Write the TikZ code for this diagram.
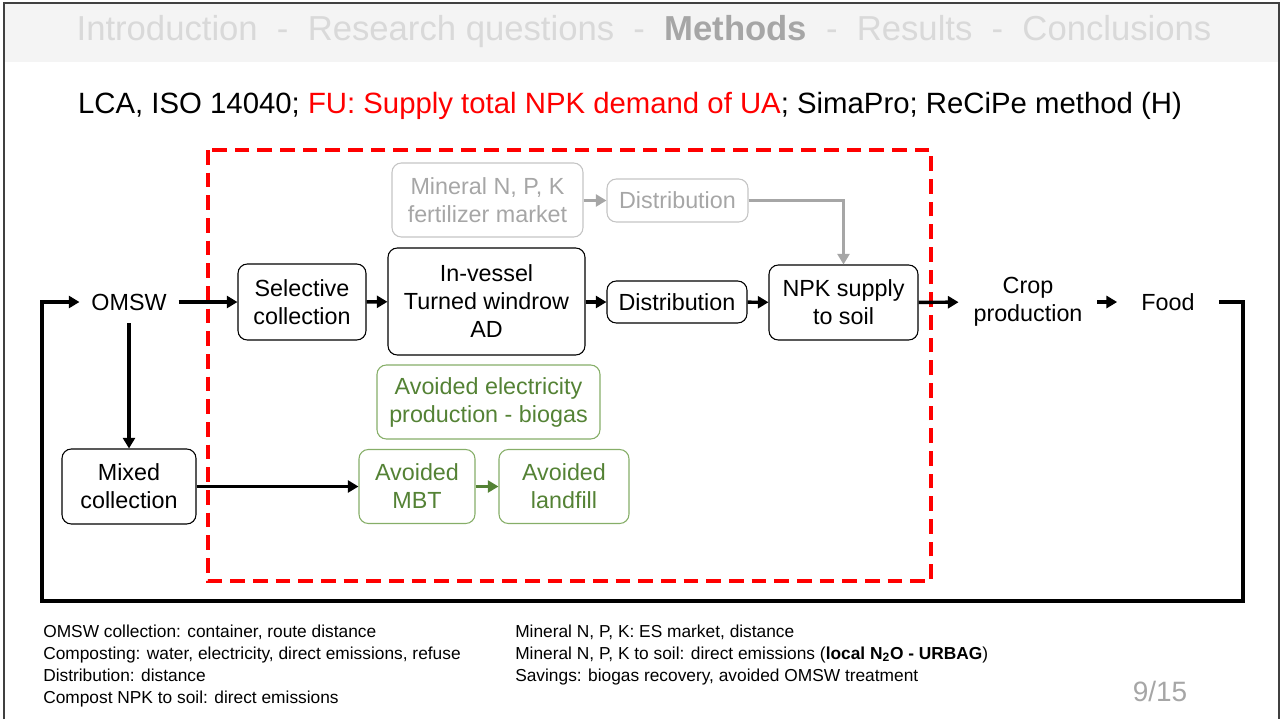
\documentclass[tikz,border=0pt]{standalone}
\usepackage{fontspec}
\setmainfont{Liberation Sans}
\usetikzlibrary{arrows.meta}

\definecolor{fured}{HTML}{FF0000}
\definecolor{navgrey}{HTML}{D9D9D9}
\definecolor{navactive}{HTML}{A6A6A6}
\definecolor{headbg}{HTML}{F4F4F4}
\definecolor{mingrey}{HTML}{A6A6A6}
\definecolor{minline}{HTML}{C4C4C4}
\definecolor{savegreen}{HTML}{548235}
\definecolor{saveline}{HTML}{86AE68}

\newcommand{\boxfont}{\fontsize{17.5}{21}\selectfont}
\newcommand{\notefont}{\fontsize{13}{16}\selectfont}

\tikzset{
  procbox/.style={draw, line width=0.8pt, rounded corners=7pt, align=center,
    inner sep=0pt, font=\boxfont},
  minbox/.style={procbox, draw=minline, text=mingrey},
  savebox/.style={procbox, draw=saveline, text=savegreen},
  plain/.style={align=center, font=\boxfont, inner ysep=0pt},
  flow/.style={line width=2.6pt, -{Triangle[length=8pt,width=9pt]}},
  minflow/.style={flow, draw=mingrey, line width=2pt},
  saveflow/.style={flow, draw=savegreen, line width=1.9pt},
  cycle line/.style={line width=3pt, -{Triangle[length=8pt,width=9pt]}},
  note/.style={font=\notefont, anchor=base west, inner sep=0pt}
}

\begin{document}
\begin{tikzpicture}[x=0.75pt, y=-0.75pt]
  \useasboundingbox (0,0) rectangle (1282,719);

  % slide frame and navigation bar
  \fill[headbg] (5,4) rectangle (1279,62);
  \draw[black!75, line width=1.4pt] (4,719) -- (4,3) -- (1279,3) -- (1279,719);
  \node[font=\fontsize{26}{31}\selectfont, text=navgrey] (nav) at (644,32)
    {Introduction\ \ -\ \ Research questions\ \ -\ \ \textcolor{navactive}{\textbf{Methods}}\ \ -\ \ Results\ \ -\ \ Conclusions};
  \node[font=\fontsize{22}{26}\selectfont] (scope) at (630,106)
    {LCA, ISO 14040; \textcolor{fured}{FU: Supply total NPK demand of UA}; SimaPro; ReCiPe method (H)};

  % system boundary
  \draw[fured, line width=2.3pt, dash pattern=on 11pt off 6pt] (208,150) rectangle (931,581);

  % main chain
  \node[plain, inner xsep=8.75pt, inner ysep=9.5pt] (omsw) at (129,302) {OMSW};
  \node[procbox, minimum width=96pt, minimum height=57pt] (selcol) at (302,302) {Selective\\collection};
  \node[procbox, minimum width=147.75pt, minimum height=80.25pt] (compost) at (486.5,301.5) {In-vessel\\Turned windrow\\AD};
  \node[procbox, minimum width=105pt, minimum height=31.5pt] (dist) at (677,302) {Distribution};
  \node[procbox, minimum width=111.75pt, minimum height=56.25pt] (npk) at (843.5,302.5) {NPK supply\\to soil};
  \node[plain, inner xsep=11pt] (crop) at (1028,302) {Crop\\production};
  \node[plain, inner xsep=18pt] (food) at (1168,302) {Food};

  % mineral fertilizer route
  \node[minbox, minimum width=143.25pt, minimum height=55.5pt] (mineral) at (487.5,200) {Mineral N, P, K\\fertilizer market};
  \node[minbox, minimum width=105.75pt, minimum height=32.25pt] (mindist) at (677.5,200.5) {Distribution};

  % mixed collection and savings
  \node[procbox, minimum width=100.5pt, minimum height=56.25pt] (mixcol) at (129,486.5) {Mixed\\collection};
  \node[savebox, minimum width=167.25pt, minimum height=55.5pt] (avelec) at (488.5,402) {Avoided electricity\\production - biogas};
  \node[savebox, minimum width=87pt, minimum height=55.5pt] (avmbt) at (417,486.5) {Avoided\\MBT};
  \node[savebox, minimum width=97.5pt, minimum height=55.5pt] (avland) at (564,486.5) {Avoided\\landfill};

  \draw[flow] (omsw) -- (selcol);
  \draw[flow] (selcol) -- (compost);
  \draw[flow] (compost.east |- dist) -- (dist);
  \draw[flow] (dist) -- (npk);
  \draw[flow] (npk) -- (crop);
  \draw[flow] (crop) -- (food);
  \draw[flow] (omsw) -- (mixcol);
  \draw[flow] (mixcol) -- (avmbt);
  \draw[saveflow] (avmbt) -- (avland);
  \draw[minflow] (mineral.east |- mindist) -- (mindist);
  \draw[minflow] (mindist) -| (npk);

  % return loop
  \coordinate (loopNE) at (1243,302);
  \coordinate (loopSW) at (42,601);
  \draw[cycle line] (food.east) -- (loopNE) |- (loopSW) |- (omsw.west);

  % inventory notes
  \foreach \txt [count=\i] in {{OMSW collection: container, route distance},
      {Composting: water, electricity, direct emissions, refuse},
      {Distribution: distance},
      {Compost NPK to soil: direct emissions}}
    \node[note] (noteL\i) at (43,615+22*\i) {\txt};
  \foreach \txt [count=\i] in {{Mineral N, P, K: ES market, distance},
      {Mineral N, P, K to soil: direct emissions (\textbf{local N\textsubscript{2}O - URBAG})},
      {Savings: biogas recovery, avoided OMSW treatment}}
    \node[note] (noteR\i) at (515,615+22*\i) {\txt};

  \node[font=\fontsize{21}{24}\selectfont, text=navactive] (page) at (1160,691) {9/15};
\end{tikzpicture}
\end{document}
